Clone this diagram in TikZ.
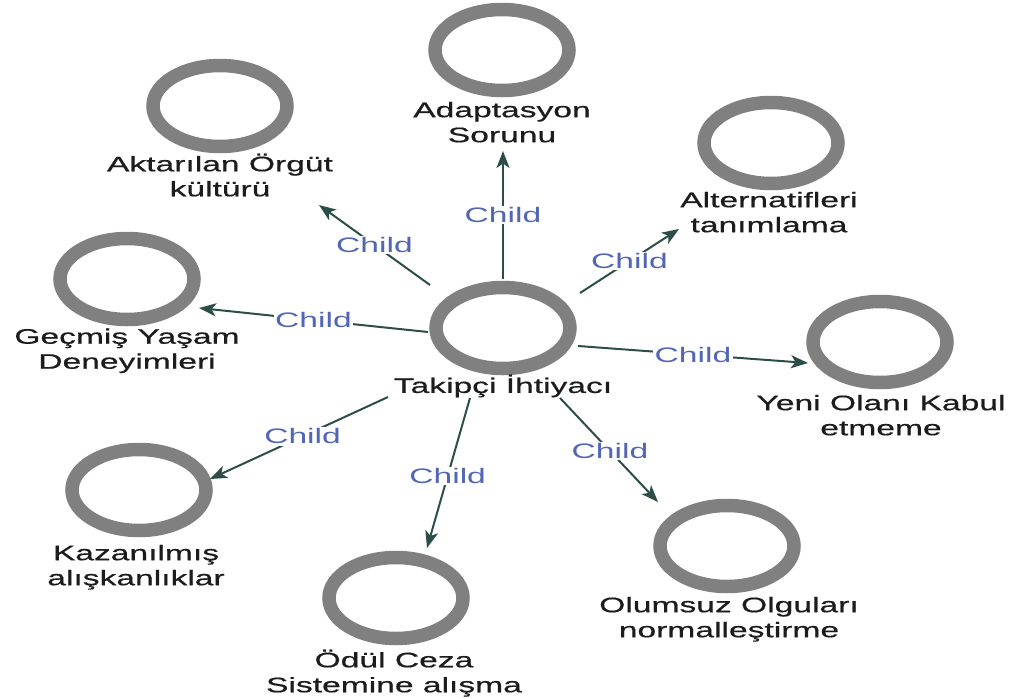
\documentclass[tikz,border=0pt]{standalone}
\usepackage{fontspec}
\setmainfont{Liberation Sans}[FakeStretch=1.6]
\newfontfamily\boldish{Liberation Sans}[FakeStretch=1.6,FakeBold=0.6]
\usetikzlibrary{arrows.meta,shapes.geometric}
\definecolor{ringgray}{RGB}{128,128,128}
\definecolor{arrowc}{RGB}{45,78,72}
\definecolor{childblue}{RGB}{82,102,182}
\definecolor{txt}{RGB}{28,28,28}
\begin{document}
\begin{tikzpicture}[x=1pt,y=-1pt,
  ring/.style={ellipse, draw=ringgray, line width=13.5pt, minimum width=134pt, minimum height=81pt, inner sep=0pt},
  lbl/.style={anchor=north, align=center, inner sep=0pt, font=\boldish\fontsize{21}{25}\selectfont, text=txt},
  conn/.style={draw=arrowc, line width=2pt, -{Stealth[length=17pt,width=13pt,inset=4.5pt]}},
  childlbl/.style={fill=white, inner sep=1.5pt, text=childblue, font=\fontsize{21}{25}\selectfont}]
\useasboundingbox (0,0) rectangle (1021,699);

% rings
\node[ring] (c)  at (503,328) {};
\node[ring] (n1) at (502,50) {};
\node[ring] (n2) at (220,106) {};
\node[ring] (n3) at (771,143) {};
\node[ring] (n4) at (127,279) {};
\node[ring] (n5) at (880,342) {};
\node[ring] (n6) at (139,490) {};
\node[ring] (n7) at (396,598) {};
\node[ring] (n8) at (727,546) {};

% texts (north = first baseline - 17.5)
\node[lbl] (tc) at (503,374.5) {\strut Takipçi İhtiyacı};
\node[lbl] (t1) at (502,99.5) {\strut Adaptasyon\\Sorunu};
\node[lbl] (t2) at (220,153.5) {\strut Aktarılan Örgüt\\kültürü};
\node[lbl] (t3) at (769,189.5) {\strut Alternatifleri\\tanımlama};
\node[lbl] (t4) at (127,326) {\strut Geçmiş Yaşam\\Deneyimleri};
\node[lbl] (t5) at (881,392.5) {\strut Yeni Olanı Kabul\\etmeme};
\node[lbl] (t6) at (136,542.5) {\strut Kazanılmış\\alışkanlıklar};
\node[lbl] (t7) at (394,649.5) {\strut Ödül Ceza\\Sistemine alışma};
\node[lbl] (t8) at (729,594.5) {\strut Olumsuz Olguları\\normalleştirme};

% connector ends
\coordinate (s1) at (503,279); \coordinate (e1) at (503,151);
\coordinate (s2) at (430,285); \coordinate (e2) at (319,205);
\coordinate (s3) at (580,293); \coordinate (e3) at (679,229);
\coordinate (s4) at (428,332); \coordinate (e4) at (199,308);
\coordinate (s5) at (578,346); \coordinate (e5) at (808,363);
\coordinate (s6) at (388,397); \coordinate (e6) at (210,479);
\coordinate (s7) at (470,398); \coordinate (e7) at (427,548);
\coordinate (s8) at (560,398); \coordinate (e8) at (658,502);

\draw[conn] (s1) -- node[childlbl,pos=0.5] {Child} (e1);
\draw[conn] (s2) -- node[childlbl,pos=0.5] {Child} (e2);
\draw[conn] (s3) -- node[childlbl,pos=0.5] {Child} (e3);
\draw[conn] (s4) -- node[childlbl,pos=0.5] {Child} (e4);
\draw[conn] (s5) -- node[childlbl,pos=0.5] {Child} (e5);
\draw[conn] (s6) -- node[childlbl,pos=0.48] {Child} (e6);
\draw[conn] (s7) -- node[childlbl,pos=0.52] {Child} (e7);
\draw[conn] (s8) -- node[childlbl,pos=0.51] {Child} (e8);
\end{tikzpicture}
\end{document}
